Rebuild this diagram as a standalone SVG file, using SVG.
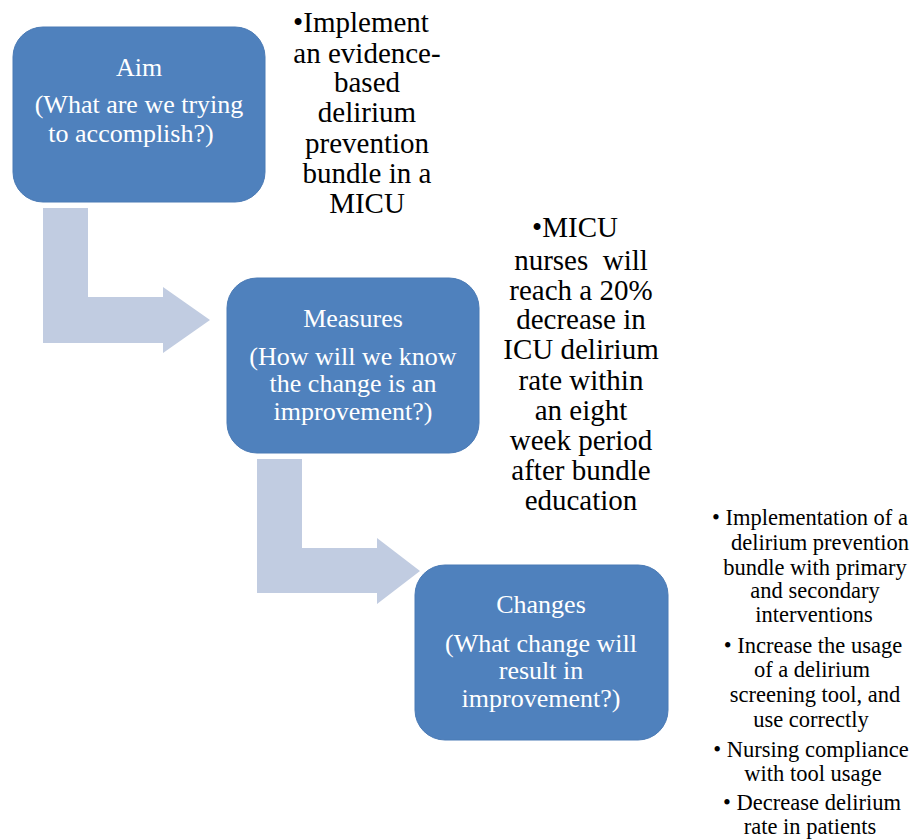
<svg xmlns="http://www.w3.org/2000/svg" width="918" height="840" viewBox="0 0 918 840">
<style>
.box{fill:#4F81BD;stroke:#4A7AB5;stroke-width:1}
.arr{fill:#C1CCE1}
.bt{font-family:"Liberation Serif",Tinos,"DejaVu Serif","Times New Roman",Times,serif;font-size:26px;fill:#fff;text-anchor:middle}
.st{font-family:"Liberation Serif",Tinos,"DejaVu Serif","Times New Roman",Times,serif;font-size:29px;fill:#000;text-anchor:middle}
.sm{font-family:"Liberation Serif",Tinos,"DejaVu Serif","Times New Roman",Times,serif;font-size:22.5px;fill:#000;text-anchor:middle}
</style>
<rect width="918" height="840" fill="#fff"/>
<g id="connectors">
<path class="arr" d="M43,208 H88 V297 H163 V287 L210,320 L163,353 V343 H43 Z"/>
<path class="arr" d="M257,459 H302 V548 H377 V538 L420,571 L377,604 V593 H257 Z"/>
</g>
<g id="aim">
<rect class="box" x="13" y="27" width="252" height="175" rx="30"/>
<text class="bt" x="139" y="76">Aim</text>
<text class="bt" x="139" y="113">(What are we trying</text>
<text class="bt" x="131" y="142">to accomplish?)</text>
</g>
<g id="measures">
<rect class="box" x="227" y="278" width="252" height="175" rx="30"/>
<text class="bt" x="353" y="327">Measures</text>
<text class="bt" x="353" y="365">(How will we know</text>
<text class="bt" x="353" y="392">the change is an</text>
<text class="bt" x="353" y="420">improvement?)</text>
</g>
<g id="changes">
<rect class="box" x="415" y="565" width="253" height="175" rx="30"/>
<text class="bt" x="541" y="613">Changes</text>
<text class="bt" x="541" y="652">(What change will</text>
<text class="bt" x="541" y="679">result in</text>
<text class="bt" x="541" y="707">improvement?)</text>
</g>
<g id="aim-text">
<text class="st" x="361" y="32">•Implement</text>
<text class="st" x="367" y="63">an evidence-</text>
<text class="st" x="367" y="92">based</text>
<text class="st" x="367" y="122">delirium</text>
<text class="st" x="367" y="153">prevention</text>
<text class="st" x="367" y="183">bundle in a</text>
<text class="st" x="367" y="213">MICU</text>
</g>
<g id="measures-text">
<text class="st" x="575" y="237">•MICU</text>
<text class="st" x="581" y="270" xml:space="preserve">nurses  will</text>
<text class="st" x="581" y="300">reach a 20%</text>
<text class="st" x="581" y="329">decrease in</text>
<text class="st" x="581" y="359">ICU delirium</text>
<text class="st" x="581" y="390">rate within</text>
<text class="st" x="581" y="420">an eight</text>
<text class="st" x="581" y="450">week period</text>
<text class="st" x="581" y="480">after bundle</text>
<text class="st" x="581" y="510">education</text>
</g>
<g id="changes-text">
<text class="sm" x="810" y="525">• Implementation of a</text>
<text class="sm" x="820" y="550">delirium prevention</text>
<text class="sm" x="815" y="575">bundle with primary</text>
<text class="sm" x="815" y="598">and secondary</text>
<text class="sm" x="814" y="622">interventions</text>
<text class="sm" x="813" y="653">• Increase the usage</text>
<text class="sm" x="812" y="677">of a delirium</text>
<text class="sm" x="815" y="702">screening tool, and</text>
<text class="sm" x="811" y="727">use correctly</text>
<text class="sm" x="811" y="757">• Nursing compliance</text>
<text class="sm" x="813" y="781">with tool usage</text>
<text class="sm" x="812" y="810">• Decrease delirium</text>
<text class="sm" x="810" y="834">rate in patients</text>
</g>
</svg>
